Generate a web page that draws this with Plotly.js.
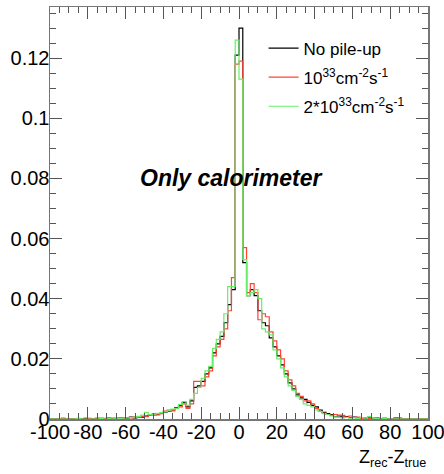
<!DOCTYPE html>
<html>
<head>
<meta charset="utf-8">
<script src="https://cdn.plot.ly/plotly-3.0.1.min.js"></script>
<style>html,body{margin:0;padding:0;background:#fff;}#chart{width:444px;height:474px;}</style>
</head>
<body>
<div id="chart"></div>
<script>
// Bin left edges (bin width 2), from -100 to 98; last edge 100 closes the histogram
const binEdges = [];
for (let e = -100; e <= 100; e += 2) binEdges.push(e);

// Normalised entries per bin
const noPileUp = [
  0,0,0,0,0,0,0,0,0,0.0002,
  0,0,0,0.0002,0,0.0003,0,0.0002,0.0003,0.0005,
  0.0002,0.0006,0.0004,0.0008,0.0006,0.0010,0.0013,0.0012,0.0016,0.0020,
  0.0023,0.0025,0.0030,0.0038,0.0045,0.0055,0.0040,0.0060,0.0105,0.0110,
  0.0125,0.0150,0.0170,0.0220,0.0250,0.0275,0.0320,0.0380,0.0430,0.1210,
  0.1300,0.0520,0.0410,0.0430,0.0410,0.0360,0.0320,0.0310,0.0270,0.0240,
  0.0210,0.0180,0.0150,0.0120,0.0100,0.0080,0.0070,0.0065,0.0055,0.0045,
  0.0040,0.0030,0.0022,0.0018,0.0015,0.0008,0.0010,0.0006,0.0008,0.0005,
  0.0006,0.0003,0.0005,0.0002,0.0004,0.0002,0.0003,0,0.0002,0,
  0,0,0,0,0,0,0,0,0,0
];
const lumi1e33 = [
  0,0,0,0.0003,0,0,0,0,0,0,
  0.0002,0,0.0003,0,0.0002,0,0.0003,0.0002,0,0.0003,
  0.0005,0.0004,0.0007,0.0005,0.0009,0.0008,0.0012,0.0017,0.0014,0.0018,
  0.0026,0.0030,0.0027,0.0035,0.0040,0.0050,0.0035,0.0050,0.0125,0.0125,
  0.0110,0.0140,0.0160,0.0210,0.0240,0.0265,0.0300,0.0360,0.0470,0.1180,
  0.1190,0.0570,0.0420,0.0450,0.0420,0.0330,0.0350,0.0340,0.0290,0.0260,
  0.0230,0.0200,0.0160,0.0130,0.0110,0.0085,0.0075,0.0060,0.0060,0.0050,
  0.0035,0.0025,0.0020,0.0015,0.0012,0.0015,0.0013,0.0012,0.0006,0.0010,
  0.0005,0.0006,0.0003,0.0004,0.0002,0.0003,0.0003,0,0.0002,0,
  0,0.0005,0.0004,0,0,0,0,0,0,0
];
const lumi2e33 = [
  0,0,0,0,0,0,0,0.0002,0,0,
  0,0,0,0.0002,0,0.0002,0,0.0003,0.0002,0.0004,
  0.0003,0.0005,0.0006,0.0009,0.0013,0.0022,0.0015,0.0013,0.0019,0.0021,
  0.0024,0.0027,0.0033,0.0035,0.0048,0.0058,0.0045,0.0065,0.0085,0.0105,
  0.0135,0.0160,0.0175,0.0235,0.0265,0.0290,0.0350,0.0440,0.0440,0.1260,
  0.1130,0.0530,0.0410,0.0420,0.0430,0.0400,0.0300,0.0290,0.0280,0.0230,
  0.0200,0.0170,0.0140,0.0110,0.0095,0.0075,0.0065,0.0050,0.0045,0.0040,
  0.0030,0.0025,0.0018,0.0015,0.0010,0.0007,0.0005,0.0004,0.0005,0.0003,
  0.0004,0.0002,0.0005,0.0003,0.0008,0.0003,0.0002,0,0.0002,0,
  0,0,0,0,0,0,0,0,0,0
];

const seriesNames = ["No pile-up", "10<sup>33</sup>cm<sup>-2</sup>s<sup>-1</sup>", "2*10<sup>33</sup>cm<sup>-2</sup>s<sup>-1</sup>"];
const seriesColors = ["#000000", "#ff4433", "#66ee66"];

const xTickVals = [-100,-80,-60,-40,-20,0,20,40,60,80,100];
const xTickText = ["-100","-80","-60","-40","-20","0","20","40","60","80","100"];
const yTickVals = [0,0.02,0.04,0.06,0.08,0.1,0.12];
const yTickText = ["0","0.02","0.04","0.06","0.08","0.1","0.12"];

function stepTrace(vals, name, color, grp) {
  return {
    type: "scatter", mode: "lines", name: name, legendgroup: grp,
    x: binEdges,
    y: vals.concat([vals[vals.length - 1]]),
    line: {shape: "hv", color: color, width: 1.2},
    hoverinfo: "skip"
  };
}

const data = [
  stepTrace(noPileUp, seriesNames[0], seriesColors[0], "a"),
  stepTrace(lumi1e33, seriesNames[1], seriesColors[1], "b"),
  stepTrace(lumi2e33, seriesNames[2], seriesColors[2], "c")
];

const fam = "Liberation Sans, Arial, sans-serif";
const tickFont = {family: fam, size: 20, color: "#000"};
const axisCommon = {
  showgrid: false, zeroline: false, showline: true, linecolor: "#777", linewidth: 1.5,
  ticks: "inside", ticklen: 12, tickwidth: 1, tickcolor: "#555", mirror: "ticks",
  tickfont: tickFont, tickmode: "array", tickangle: 0, ticklabeloverflow: "allow"
};

const layout = {
  width: 444, height: 474,
  margin: {l: 50, r: 16, t: 7, b: 55},
  paper_bgcolor: "#fff", plot_bgcolor: "#fff",
  showlegend: true,
  legend: {
    x: 0.565, y: 0.943, xanchor: "left", yanchor: "top",
    bgcolor: "rgba(0,0,0,0)", borderwidth: 0, tracegroupgap: 4, itemwidth: 30,
    font: {family: fam, size: 17, color: "#000"}
  },
  xaxis: Object.assign({}, axisCommon, {
    range: [-100, 100], tickvals: xTickVals, ticktext: xTickText, ticklabelstandoff: -6,
    minor: {dtick: 5, tick0: 0, ticks: "inside", ticklen: 6, tickcolor: "#555", showgrid: false}
  }),
  yaxis: Object.assign({}, axisCommon, {
    range: [0, 0.137], tickvals: yTickVals, ticktext: yTickText, ticklabelstandoff: -5,
    minor: {dtick: 0.005, tick0: 0, ticks: "inside", ticklen: 6, tickcolor: "#555", showgrid: false}
  }),
  shapes: [
    {type: "rect", xref: "paper", yref: "paper", x0: -0.14, x1: -0.107, y0: 0.05, y1: 1.02,
     fillcolor: "#fff", line: {width: 0}, layer: "above"}
  ],
  annotations: [
    {text: "<b><i>Only calorimeter</i></b>", xref: "paper", yref: "paper", x: 0.48, y: 0.585,
     xanchor: "center", yanchor: "middle", showarrow: false,
     font: {family: fam, size: 23, color: "#000"}},
    {text: "Z<sub>rec</sub>-Z<sub>true</sub>", xref: "paper", yref: "paper", x: 1.0, y: -0.063,
     xanchor: "right", yanchor: "top", showarrow: false,
     font: {family: fam, size: 18, color: "#000"}}
  ]
};

Plotly.newPlot("chart", data, layout, {staticPlot: true, displayModeBar: false});
</script>
</body>
</html>
